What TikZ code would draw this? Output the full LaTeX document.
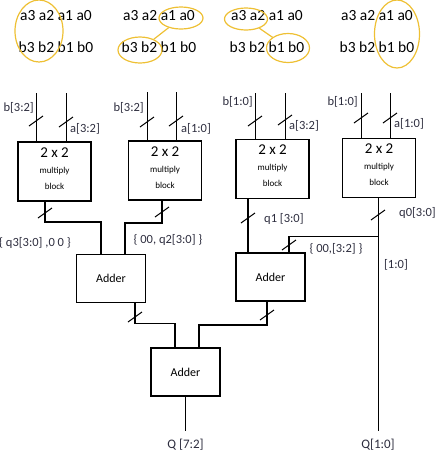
\documentclass[tikz,border=0pt]{standalone}
\usepackage{fontspec}
\setmainfont{Carlito}
\usepackage{tikz}
\usetikzlibrary{calc,positioning,shapes.geometric}
\definecolor{ringgold}{RGB}{238,192,52}
\definecolor{labelink}{RGB}{45,45,62}
\tikzset{
  multblock/.style={draw=black, line width=1.8pt, minimum width=73pt,
    minimum height=59pt, inner sep=0pt, align=center,
    font=\fontsize{9}{16}\selectfont},
  adderblock/.style={draw=black, line width=1.8pt, minimum width=69pt,
    minimum height=48pt, inner sep=0pt, font=\fontsize{12}{13}\selectfont},
  wirethin/.style={line width=1pt, draw=black},
  wiremid/.style={line width=1.5pt, draw=black},
  wirebus/.style={line width=2pt, draw=black},
  busmark/.style={line width=1pt, draw=black},
  siglabel/.style={font=\fontsize{12.5}{13}\selectfont, text=labelink,
    inner sep=0pt},
  outlabel/.style={font=\fontsize{13}{14}\selectfont, text=labelink,
    inner sep=0pt, outer sep=8pt},
  bitrow/.style={font=\fontsize{15.5}{16}\selectfont, inner sep=0pt},
  selring/.style={ellipse, draw=ringgold, line width=1.2pt, inner sep=0pt},
  selline/.style={draw=ringgold, line width=1.2pt}
}
\newcommand{\busslash}[1]{\draw[busmark] ($(#1)+(-7,5)$) -- ($(#1)+(7,-5)$);}
\newcommand{\multtext}{{\fontsize{15}{16}\selectfont 2 x 2}\\multiply\\
  block\rule[-6pt]{0pt}{0pt}}

\begin{document}
\begin{tikzpicture}[x=1pt, y=-1pt]
  \useasboundingbox (0,0) rectangle (436,456);

  \node[bitrow] (ra1) at (56,16) {a3 a2 a1 a0};
  \node[bitrow] (rb1) at (56,47) {b3 b2 b1 b0};
  \node[bitrow] (ra2) at (159,16) {a3 a2 a1 a0};
  \node[bitrow] (rb2) at (159,47) {b3 b2 b1 b0};
  \node[bitrow] (ra3) at (267,16) {a3 a2 a1 a0};
  \node[bitrow] (rb3) at (267,47) {b3 b2 b1 b0};
  \node[bitrow] (ra4) at (377,16) {a3 a2 a1 a0};
  \node[bitrow] (rb4) at (377,47) {b3 b2 b1 b0};

  \node[selring, minimum width=48pt, minimum height=62pt] (hi1) at (39,31) {};
  \node[selring, minimum width=44pt, minimum height=22pt] (lo2) at (181,18) {};
  \node[selring, minimum width=44pt, minimum height=26pt] (hi2) at (140,50) {};
  \node[selring, minimum width=43pt, minimum height=22pt] (hi3) at (246,19) {};
  \node[selring, minimum width=43pt, minimum height=29pt] (lo3) at (288,48) {};
  \node[selring, minimum width=45pt, minimum height=68pt] (lo4) at (397,34) {};
  \draw[selline] (lo2) -- (hi2);
  \draw[selline] (hi3) -- (lo3);

  \node[multblock] (m1) at (54.5,171.5) {\multtext};
  \node[multblock] (m2) at (165,170.5) {\multtext};
  \node[multblock] (m3) at (272.5,169) {\multtext};
  \node[multblock] (m4) at (379,168) {\multtext};

  \node[adderblock] (a1) at (111,278.5) {Adder};
  \node[adderblock] (a2) at (270.5,277) {Adder};
  \node[adderblock] (a3) at (185.5,372) {Adder};

  \draw[wirethin] ([xshift=-18.5pt]m1.north) -- ++(0,-48);
  \draw[wirethin] ([xshift=11.5pt]m1.north) -- ++(0,-48);
  \draw[wirethin] ([xshift=-18pt]m2.north) -- ++(0,-48);
  \draw[wirethin] ([xshift=11pt]m2.north) -- ++(0,-48);
  \draw[wirethin] ([xshift=-17.5pt]m3.north) -- ++(0,-46);
  \draw[wirethin] ([xshift=12.5pt]m3.north) -- ++(0,-46);
  \draw[wirethin] ([xshift=-18pt]m4.north) -- ++(0,-45);
  \draw[wirethin] ([xshift=11pt]m4.north) -- ++(0,-45);

  \node[siglabel, anchor=east] (m1b) at (34,108) {b[3:2]};
  \node[siglabel, anchor=west] (m1a) at (70,129) {a[3:2]};
  \node[siglabel, anchor=east] (m2b) at (144,108) {b[3:2]};
  \node[siglabel, anchor=west] (m2a) at (181,129) {a[1:0]};
  \node[siglabel, anchor=east] (m3b) at (253,102) {b[1:0]};
  \node[siglabel, anchor=west] (m3a) at (289,126) {a[3:2]};
  \node[siglabel, anchor=east] (m4b) at (358,102) {b[1:0]};
  \node[siglabel, anchor=west] (m4a) at (394,124) {a[1:0]};

  \draw[wirebus] ([xshift=-9.5pt]m1.south) -- ++(0,20)
    -| ([xshift=-10pt]a1.north);
  \draw[wirebus] ([xshift=-3pt]m2.south) -- ++(0,22)
    -| ([xshift=14pt]a1.north);
  \draw[wirebus] ([xshift=-24.5pt]m3.south)
    -- ([xshift=-24.5pt]m3.south |- a2.north);

  \node[outlabel] (q72) at (185.5,445) {Q [7:2]};
  \node[outlabel] (q10) at (378,445) {Q[1:0]};

  \draw[wirethin] ([xshift=-1pt]m4.south) -- ([xshift=-1pt]m4.south |- q10.north);
  \path ([xshift=-1pt]m4.south) ++(0,38) coordinate (tap);
  \draw[wiremid] (tap) -| ([xshift=18.5pt]a2.north);

  \draw[wiremid] ([xshift=24pt]a1.south) -- ++(0,20)
    -| ([xshift=-10.5pt]a3.north);
  \draw[wiremid] ([xshift=-3.5pt]a2.south) -- ++(0,23)
    -| ([xshift=13.5pt]a3.north);
  \draw[wirethin] (a3.south) -- (q72.north);

  \node[siglabel] (q3pad) at (35,243) {\{ q3[3:0] ,0 0 \}};
  \node[siglabel] (q2pad) at (168,240) {\{ 00, q2[3:0] \}};
  \node[siglabel, anchor=west] (q1lab) at (264,219) {q1 [3:0]};
  \node[siglabel, anchor=west] (q0lab) at (399,213) {q0[3:0]};
  \node[siglabel] (q0pad) at (336,249) {\{ 00,[3:2] \}};
  \node[siglabel] (q0low) at (396,265) {[1:0]};

  \busslash{36,121} \busslash{66,122}
  \busslash{147,122} \busslash{176,121}
  \busslash{255,121} \busslash{285,120}
  \busslash{361,118} \busslash{390,118}
  \busslash{45,213} \busslash{162,212}
  \busslash{248,218} \busslash{378,215}
  \busslash{289,245}
  \busslash{135,317} \busslash{267,315}
\end{tikzpicture}
\end{document}
